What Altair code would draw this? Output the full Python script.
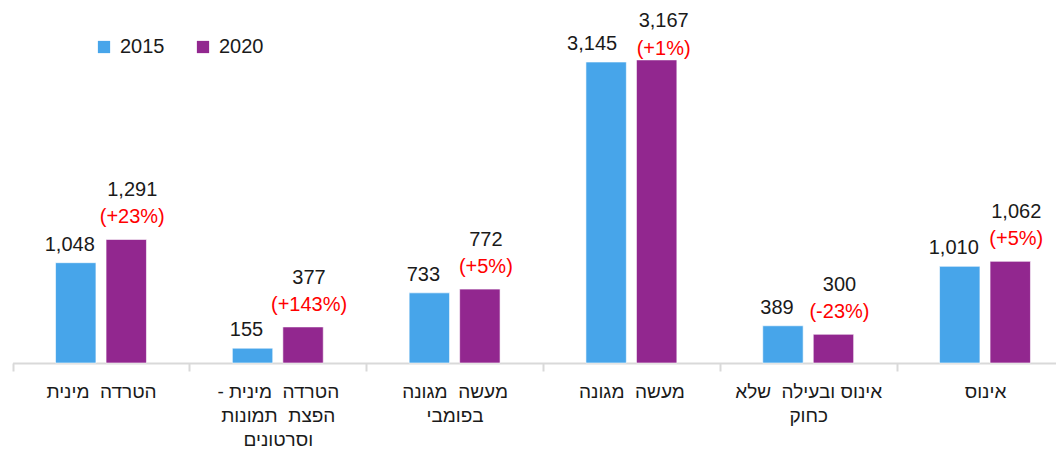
import altair as alt
import pandas as pd

W2 = "\u00a0 "  # wide word gap as in the original labels
categories = [
    f"הטרדה{W2}מינית",
    f"הטרדה{W2}מינית -\u200f|הפצת{W2}תמונות|וסרטונים",
    f"מעשה{W2}מגונה|בפומבי",
    f"מעשה{W2}מגונה",
    f"אינוס ובעילה{W2}שלא|כחוק",
    "אינוס",
]
values_2015 = [1048, 155, 733, 3145, 389, 1010]
values_2020 = [1291, 377, 772, 3167, 300, 1062]
changes = ["(+23%)", "(+143%)", "(+5%)", "(+1%)", "(-23%)", "(+5%)"]
years = ["2015", "2020"]
colors = ["#47A5EA", "#92278F"]

rows = []
for c, a, b, ch in zip(categories, values_2015, values_2020, changes):
    rows.append({"cat": c, "year": "2015", "value": a, "lbl": f"{a:,}", "chg": ""})
    rows.append({"cat": c, "year": "2020", "value": b, "lbl": f"{b:,}", "chg": ch})
df = pd.DataFrame(rows)

FONT = "Liberation Sans"
TALL = 3000  # bars above this have their labels squeezed, as in the original

x = alt.X(
    "cat:N",
    sort=categories,
    scale=alt.Scale(paddingInner=0, paddingOuter=0, range=[0.6, 1061.4]),
    axis=alt.Axis(
        title=None,
        labelExpr="split(datum.label, '|')",
        labelAngle=0,
        tickBand="extent",
        labelFontSize=19,
        labelFont=FONT,
        labelColor="#1a1a1a",
        labelPadding=11,
        labelLineHeight=24,
        labelBaseline="top",
        labelLimit=400,
        domainColor="#D9D9D9",
        domainWidth=2,
        tickColor="#D9D9D9",
        tickWidth=2,
        tickSize=8,
    ),
)
xoff = alt.XOffset("year:N", sort=years, scale=alt.Scale(paddingInner=0.2, paddingOuter=0.85))
y = alt.Y("value:Q", scale=alt.Scale(domain=[0, 3657], nice=False), axis=None)

base = alt.Chart(df).encode(x=x, xOffset=xoff, y=y)

bars = base.mark_bar(stroke="white", strokeWidth=0.6).encode(
    color=alt.Color(
        "year:N",
        scale=alt.Scale(domain=years, range=colors),
        legend=alt.Legend(
            title=None,
            orient="none",
            legendX=82,
            legendY=24,
            direction="horizontal",
            symbolType="square",
            symbolSize=150,
            symbolStrokeWidth=0,
            labelFontSize=20,
            labelFont=FONT,
            labelColor="#1a1a1a",
            columnPadding=28,
            labelOffset=6,
        ),
    )
)

txt = dict(baseline="alphabetic", fontSize=20, font=FONT)
IS15 = "datum.year == '2015'"
IS20 = "datum.year == '2020'"

lbl2015 = base.transform_filter(f"{IS15} && datum.value < {TALL}").mark_text(
    dy=-12, dx=-6, color="#1a1a1a", **txt
).encode(text="lbl:N")

lbl2015t = base.transform_filter(f"{IS15} && datum.value >= {TALL}").mark_text(
    dy=-12, dx=-14, color="#1a1a1a", **txt
).encode(text="lbl:N")

pct2020 = base.transform_filter(f"{IS20} && datum.value < {TALL}").mark_text(
    dy=-16, dx=6, color="#FF0000", **txt
).encode(text="chg:N")

lbl2020 = base.transform_filter(f"{IS20} && datum.value < {TALL}").mark_text(
    dy=-43, dx=6, color="#1a1a1a", **txt
).encode(text="lbl:N")

pct2020t = base.transform_filter(f"{IS20} && datum.value >= {TALL}").mark_text(
    dy=-5, dx=7, color="#FF0000", **txt
).encode(text="chg:N")

lbl2020t = base.transform_filter(f"{IS20} && datum.value >= {TALL}").mark_text(
    dy=-33, dx=7, color="#1a1a1a", **txt
).encode(text="lbl:N")

chart = (
    alt.layer(bars, lbl2015, lbl2015t, pct2020, lbl2020, pct2020t, lbl2020t)
    .properties(
        width=1044,
        height=350,
        autosize=alt.AutoSizeParams(type="none"),
        padding={"left": 4, "top": 5, "right": 0, "bottom": 85},
    )
    .configure_view(stroke=None)
)

chart.save("out.html", embed_options={"renderer": "svg", "actions": False})
